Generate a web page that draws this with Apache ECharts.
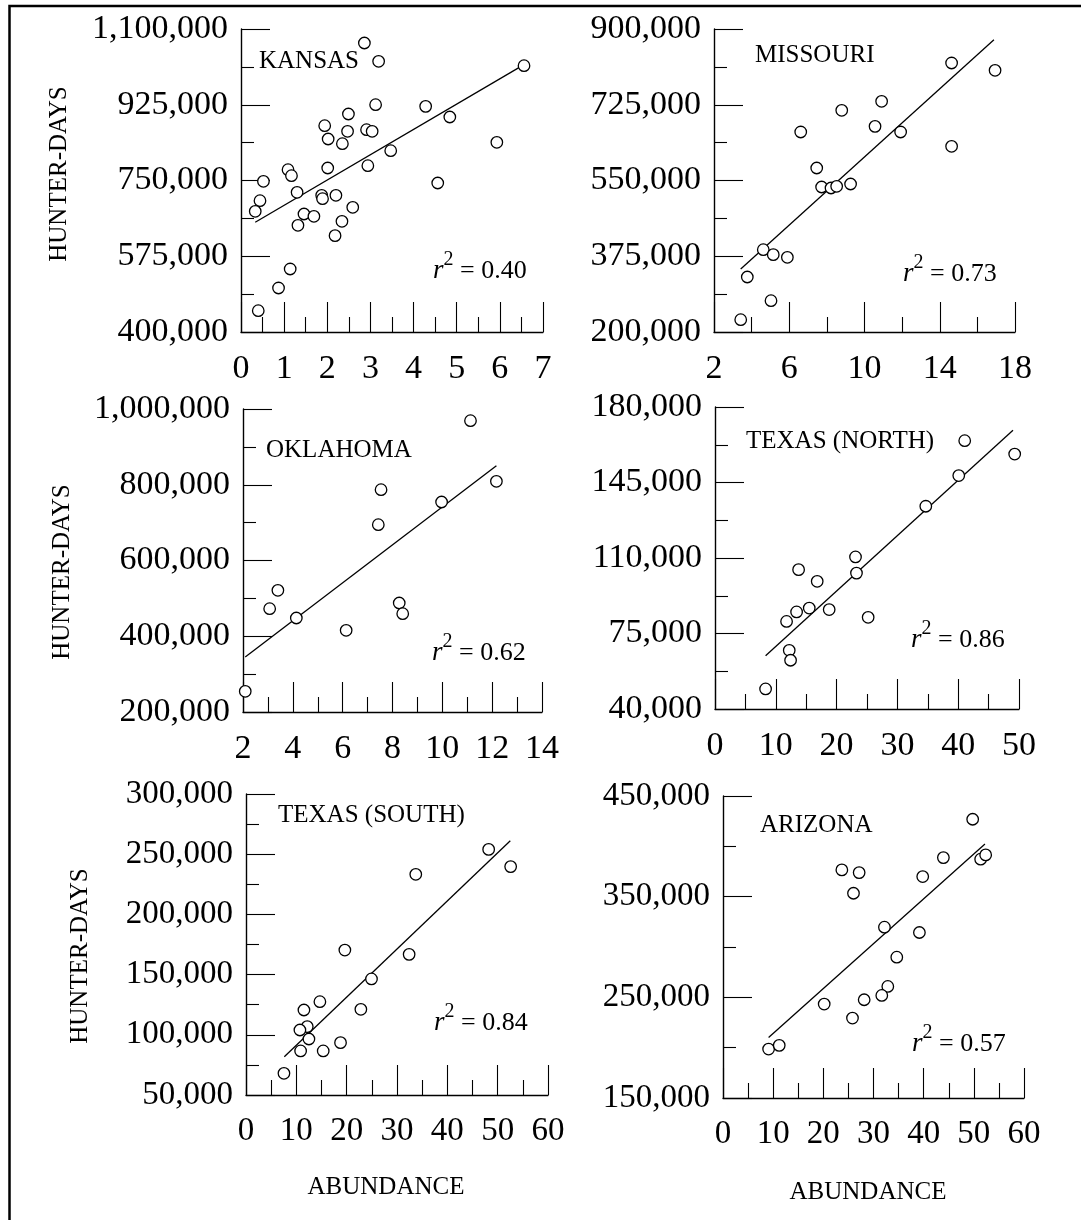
<!DOCTYPE html>
<html>
<head>
<meta charset="utf-8">
<script src="https://cdn.jsdelivr.net/npm/echarts@6/dist/echarts.min.js"></script>
<style>
html,body{margin:0;padding:0;background:#fff;}
#chart{width:1081px;height:1220px;}
</style>
</head>
<body>
<div id="chart"></div>
<script>
// ---------- DATA ----------
const KANSAS_ABUNDANCE = [2.86,3.19,6.56,3.12,4.28,2.49,4.84,1.94,2.47,2.91,3.04,2.02,2.35,5.93,3.47,2.94,2.01,1.09,1.17,0.52,4.56,1.30,1.87,1.89,2.20,0.44,0.33,2.59,1.46,1.69,1.32,2.34,2.18,1.14,0.87,0.40];
const KANSAS_HUNTER_DAYS = [1067700,1025300,1015300,925200,921300,903600,896700,876700,863600,867400,863600,845900,835100,838200,818900,784300,778900,775000,761200,748100,744200,722700,715700,708000,715700,703400,678800,688000,672600,667200,646400,655700,622600,545600,501700,449300];
const KANSAS_FIT = [[0.33,653400],[6.56,1017600]];
const KANSAS_X_TICKS = [0,1,2,3,4,5,6,7];
const KANSAS_Y_TICKS = [400000,575000,750000,925000,1100000];

const MISSOURI_ABUNDANCE = [14.63,16.94,10.91,8.79,10.56,6.61,11.92,14.63,7.46,7.72,8.22,8.52,9.26,4.62,5.15,5.90,3.77,5.03,3.42];
const MISSOURI_HUNTER_DAYS = [821500,804500,732900,712100,675100,662100,662100,628900,578900,535000,532700,536500,541900,390200,378700,372500,327100,272400,228500];
const MISSOURI_FIT = [[3.42,345600],[16.88,875400]];
const MISSOURI_X_TICKS = [2,6,10,14,18];
const MISSOURI_Y_TICKS = [200000,375000,550000,725000,900000];

const OKLAHOMA_ABUNDANCE = [11.13,12.17,7.54,9.97,7.43,3.40,3.07,8.27,8.41,4.14,6.14,2.09];
const OKLAHOMA_HUNTER_DAYS = [969200,809000,787000,754500,694600,521300,472800,487800,459600,448200,415600,254600];
const OKLAHOMA_FIT = [[2.09,345200],[12.17,850400]];
const OKLAHOMA_X_TICKS = [2,4,6,8,10,12,14];
const OKLAHOMA_Y_TICKS = [200000,400000,600000,800000,1000000];

const TEXAS_NORTH_ABUNDANCE = [41.07,49.29,40.09,34.67,23.11,23.27,13.75,16.81,15.50,13.42,18.78,11.77,25.19,12.21,12.43,8.32];
const TEXAS_NORTH_HUNTER_DAYS = [164400,158200,148200,134000,110500,103000,104600,99200,86800,85000,86100,80600,82500,67200,62600,49300];
const TEXAS_NORTH_FIT = [[8.32,64700],[49.01,169200]];
const TEXAS_NORTH_X_TICKS = [0,10,20,30,40,50];
const TEXAS_NORTH_Y_TICKS = [40000,75000,110000,145000,180000];

const TEXAS_SOUTH_ABUNDANCE = [48.21,52.58,33.73,19.64,32.41,24.93,14.68,11.51,22.82,12.17,10.71,12.50,10.85,15.34,18.78,7.54];
const TEXAS_SOUTH_HUNTER_DAYS = [254000,239700,233300,170400,166800,146400,127500,120600,121200,106800,104000,96500,86600,86600,93500,68000];
const TEXAS_SOUTH_FIT = [[7.61,81800],[52.51,261200]];
const TEXAS_SOUTH_X_TICKS = [0,10,20,30,40,50,60];
const TEXAS_SOUTH_Y_TICKS = [50000,100000,150000,200000,250000,300000];

const ARIZONA_ABUNDANCE = [49.77,43.93,51.36,52.36,23.69,27.14,39.81,26.01,32.18,39.15,34.64,32.85,31.65,28.14,20.17,25.81,9.09,11.21];
const ARIZONA_HUNTER_DAYS = [426900,388800,387200,391500,376600,373900,370000,353400,319700,314400,289900,260800,251900,247600,243300,229400,198600,202300];
const ARIZONA_FIT = [[9.09,210200],[52.22,402400]];
const ARIZONA_X_TICKS = [0,10,20,30,40,50,60];
const ARIZONA_Y_TICKS = [150000,250000,350000,450000];

const PANEL_NAMES = ['KANSAS','MISSOURI','OKLAHOMA','TEXAS (NORTH)','TEXAS (SOUTH)','ARIZONA'];
const R_SQUARED = ['0.40','0.73','0.62','0.86','0.84','0.57'];

// ---------- LAYOUT ----------
const FONT = '"Liberation Serif", "Times New Roman", serif';
const panels = [
  {xs:KANSAS_ABUNDANCE, ys:KANSAS_HUNTER_DAYS, fit:KANSAS_FIT, xt:KANSAS_X_TICKS, yt:KANSAS_Y_TICKS,
   grid:{left:241,top:29,width:302,height:303}, title:[259,61], r2:[433,271], fs:34},
  {xs:MISSOURI_ABUNDANCE, ys:MISSOURI_HUNTER_DAYS, fit:MISSOURI_FIT, xt:MISSOURI_X_TICKS, yt:MISSOURI_Y_TICKS,
   grid:{left:714,top:29,width:301,height:303}, title:[755,55], r2:[903,274], fs:34},
  {xs:OKLAHOMA_ABUNDANCE, ys:OKLAHOMA_HUNTER_DAYS, fit:OKLAHOMA_FIT, xt:OKLAHOMA_X_TICKS, yt:OKLAHOMA_Y_TICKS,
   grid:{left:243,top:409,width:299,height:303}, title:[266,450], r2:[432,653], fs:34},
  {xs:TEXAS_NORTH_ABUNDANCE, ys:TEXAS_NORTH_HUNTER_DAYS, fit:TEXAS_NORTH_FIT, xt:TEXAS_NORTH_X_TICKS, yt:TEXAS_NORTH_Y_TICKS,
   grid:{left:715,top:407,width:304,height:302}, title:[746,441], r2:[911,640], fs:34},
  {xs:TEXAS_SOUTH_ABUNDANCE, ys:TEXAS_SOUTH_HUNTER_DAYS, fit:TEXAS_SOUTH_FIT, xt:TEXAS_SOUTH_X_TICKS, yt:TEXAS_SOUTH_Y_TICKS,
   grid:{left:246,top:794,width:302,height:301}, title:[278,815], r2:[434,1023], fs:33},
  {xs:ARIZONA_ABUNDANCE, ys:ARIZONA_HUNTER_DAYS, fit:ARIZONA_FIT, xt:ARIZONA_X_TICKS, yt:ARIZONA_Y_TICKS,
   grid:{left:723,top:796,width:301,height:302}, title:[760,825], r2:[912,1044], fs:33}
];

function mids(t){ const m=[]; for(let i=0;i<t.length-1;i++) m.push((t[i]+t[i+1])/2); return m; }
function fmt(v){ return String(Math.round(v)).replace(/\B(?=(\d{3})+(?!\d))/g, ','); }

const grids=[], xAxes=[], yAxes=[], series=[], graphics=[];
panels.forEach((p,i)=>{
  grids.push(Object.assign({containLabel:false, outerBoundsMode:'none'}, p.grid));
  const xmin=p.xt[0], xmax=p.xt[p.xt.length-1], ymin=p.yt[0], ymax=p.yt[p.yt.length-1];
  const lab = {show:true, color:'#000', fontFamily:FONT, fontSize:p.fs, showMinLabel:true, showMaxLabel:true, hideOverlap:false};
  xAxes.push({type:'value', gridIndex:i, min:xmin, max:xmax, position:'bottom',
    axisLine:{show:true, onZero:false, lineStyle:{color:'#000', width:1.4}},
    axisTick:{show:true, inside:true, length:30, customValues:p.xt, lineStyle:{color:'#000', width:1.1}},
    axisLabel:Object.assign({customValues:p.xt, margin:20, formatter:v=>String(v)}, lab),
    splitLine:{show:false}, minorTick:{show:false}});
  xAxes.push({type:'value', gridIndex:i, min:xmin, max:xmax, position:'bottom',
    axisLine:{show:false, onZero:false},
    axisTick:{show:true, inside:true, length:15, customValues:mids(p.xt), lineStyle:{color:'#000', width:1.1}},
    axisLabel:{show:false}, splitLine:{show:false}});
  yAxes.push({type:'value', gridIndex:i, min:ymin, max:ymax, position:'left',
    axisLine:{show:true, onZero:false, lineStyle:{color:'#000', width:1.4}},
    axisTick:{show:true, inside:true, length:29, customValues:p.yt, lineStyle:{color:'#000', width:1.1}},
    axisLabel:Object.assign({customValues:p.yt, margin:13, formatter:fmt}, lab),
    splitLine:{show:false}, minorTick:{show:false}});
  yAxes.push({type:'value', gridIndex:i, min:ymin, max:ymax, position:'left',
    axisLine:{show:false, onZero:false},
    axisTick:{show:true, inside:true, length:13, customValues:mids(p.yt), lineStyle:{color:'#000', width:1.1}},
    axisLabel:{show:false}, splitLine:{show:false}});
  series.push({type:'line', xAxisIndex:2*i, yAxisIndex:2*i, data:p.fit, symbol:'none', silent:true,
    lineStyle:{color:'#000', width:1.3}, z:2});
  series.push({type:'scatter', xAxisIndex:2*i, yAxisIndex:2*i, data:p.xs.map((x,j)=>[x,p.ys[j]]),
    symbol:'circle', symbolSize:11.5, itemStyle:{color:'#fff', borderColor:'#000', borderWidth:1.3, opacity:1}, z:3});
  graphics.push({type:'text', x:p.title[0], y:p.title[1], z:10,
    style:{text:PANEL_NAMES[i], font:'25px '+FONT, fill:'#000', textAlign:'left', textVerticalAlign:'middle'}});
  graphics.push({type:'text', x:p.r2[0], y:p.r2[1], z:10,
    style:{text:'{i|r}{s|2}{n| = '+R_SQUARED[i]+'}', fill:'#000', textAlign:'left', textVerticalAlign:'middle',
      rich:{
        i:{fontFamily:FONT, fontStyle:'italic', fontSize:27, lineHeight:42, fill:'#000', color:'#000'},
        s:{fontFamily:FONT, fontSize:20, lineHeight:20, verticalAlign:'top', fill:'#000', color:'#000'},
        n:{fontFamily:FONT, fontSize:26, lineHeight:42, fill:'#000', color:'#000'}
      }}});
});

// y-axis titles
[[59,174],[62,572],[80,956]].forEach(pos=>{
  graphics.push({type:'text', x:pos[0], y:pos[1], rotation:Math.PI/2, z:10,
    style:{text:'HUNTER-DAYS', font:'25px '+FONT, fill:'#000', textAlign:'center', textVerticalAlign:'middle'}});
});
// x-axis titles
[[386,1187],[868,1192]].forEach(pos=>{
  graphics.push({type:'text', x:pos[0], y:pos[1], z:10,
    style:{text:'ABUNDANCE', font:'25px '+FONT, fill:'#000', textAlign:'center', textVerticalAlign:'middle'}});
});
// outer frame
graphics.push({type:'rect', z:0, shape:{x:9.5, y:6, width:1090, height:1240},
  style:{fill:'none', stroke:'#000', lineWidth:2.5}});

const chart = echarts.init(document.getElementById('chart'), null, {renderer:'canvas'});
chart.setOption({
  animation:false,
  backgroundColor:'#fff',
  grid:grids, xAxis:xAxes, yAxis:yAxes, series:series, graphic:graphics
});
</script>
</body>
</html>
